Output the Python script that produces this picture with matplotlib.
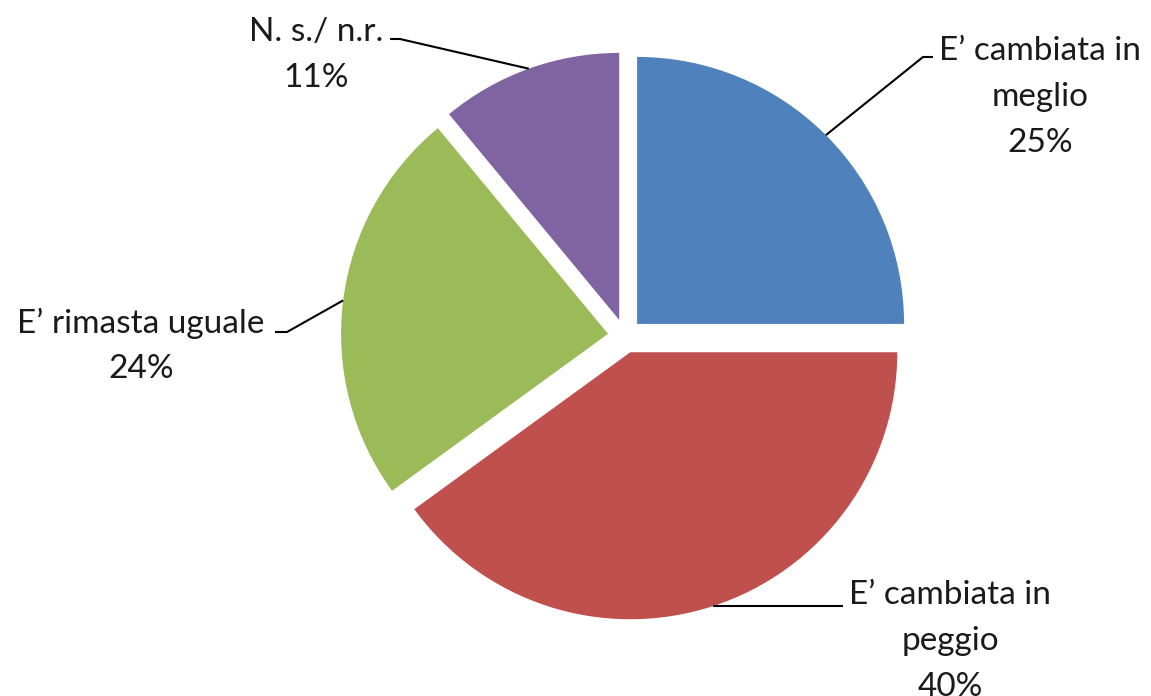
import matplotlib.pyplot as plt
import numpy as np

# Pie data (clockwise from 12 o'clock)
labels = ["E\u2019 cambiata in\nmeglio", "E\u2019 cambiata in\npeggio",
          "E\u2019 rimasta uguale", "N. s./ n.r."]
values = [25, 40, 24, 11]
colors = ["#4F81BD", "#C0504D", "#9BBB59", "#8064A2"]

W, H = 1151, 696
cx, cy, R = 625, 336, 267  # pie centre / radius in pixels

fig = plt.figure(figsize=(W / 100, H / 100), dpi=100)
ax = fig.add_axes([0, 0, 1, 1])

expl = 0.064
wedges, _ = ax.pie(values, colors=colors, startangle=90, counterclock=False,
                   explode=[expl] * 4, radius=1, center=(0, 0),
                   wedgeprops=dict(linewidth=0))

# pie() resets the limits, so set them afterwards
ax.set_xlim(-cx / R, (W - cx) / R)
ax.set_ylim(-(H - cy) / R, cy / R)
ax.set_aspect("equal")
ax.axis("off")

def px(x, y):
    return (x - cx) / R, (cy - y) / R

# label text centre and leader elbow/end in pixels
text_pos = [(1040, 97), (950, 641), (141, 346), (316, 55)]
elbows = [[(923, 57), (933, 57)], [(843, 605)], [(287, 332), (275, 332)],
          [(400, 39), (390, 39)]]

for w, lab, v, tp, el in zip(wedges, labels, values, text_pos, elbows):
    mid = np.deg2rad((w.theta1 + w.theta2) / 2)
    ox, oy = w.center
    rim = (ox + np.cos(mid), oy + np.sin(mid))
    pts = [rim] + [px(*p) for p in el]
    if len(el) == 1:
        pts = [rim, (px(*el[0])[0], rim[1])]
    xs, ys = zip(*pts)
    ax.plot(xs, ys, color="black", lw=1.5, solid_capstyle="butt")
    tx, ty = px(*tp)
    ax.text(tx, ty, f"{lab}\n{v}%", ha="center", va="center",
            fontsize=24, family="Lato", linespacing=1.65, color="#1a1a1a")

fig.savefig("out.png", dpi=100)
